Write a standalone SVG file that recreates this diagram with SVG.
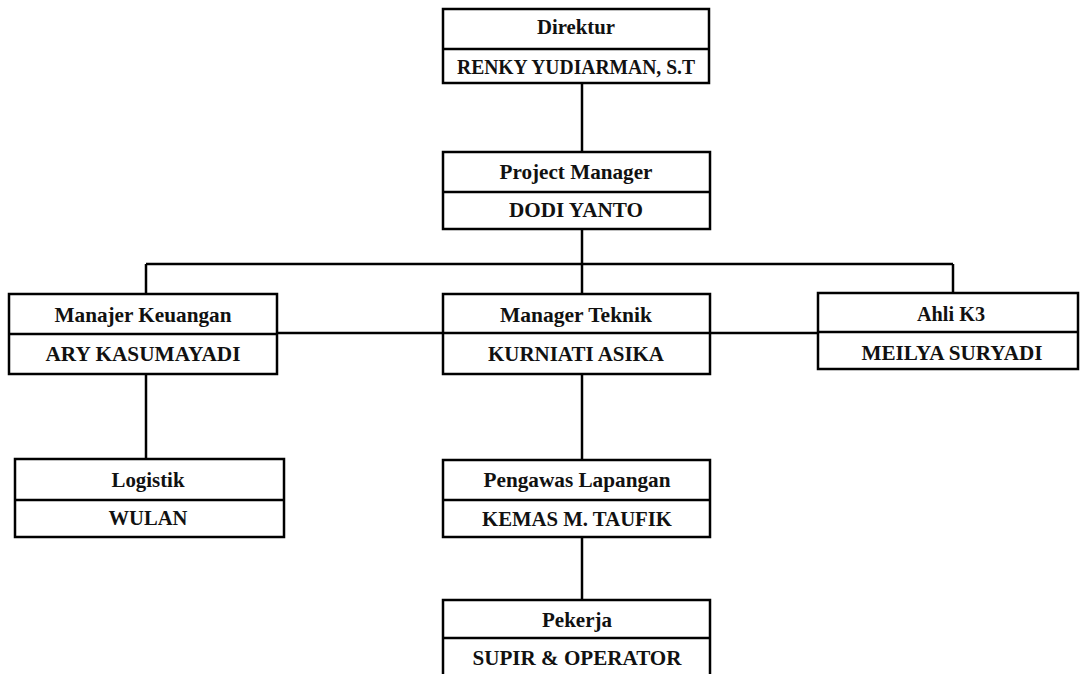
<svg xmlns="http://www.w3.org/2000/svg" width="1082" height="674" viewBox="0 0 1082 674">
<style>
.box{fill:#fff;stroke:#000;stroke-width:2.5}
.div{stroke:#000;stroke-width:2.5}
.conn line{stroke:#000;stroke-width:2.5}
text{font-family:"Liberation Serif","Times New Roman",serif;font-weight:bold;font-size:21px;fill:#111;text-anchor:middle}
</style>
<rect width="1082" height="674" fill="#fff"/>
<g id="connectors" class="conn">
<line x1="582" y1="83" x2="582" y2="152"/>
<line x1="582" y1="229" x2="582" y2="264"/>
<line x1="146" y1="264" x2="953" y2="264"/>
<line x1="146" y1="264" x2="146" y2="294"/>
<line x1="582" y1="264" x2="582" y2="294"/>
<line x1="953" y1="264" x2="953" y2="293"/>
<line x1="277" y1="333" x2="818" y2="333"/>
<line x1="146" y1="374" x2="146" y2="459"/>
<line x1="582" y1="374" x2="582" y2="460"/>
<line x1="582" y1="537" x2="582" y2="600"/>
</g>
<g id="direktur">
<rect class="box" x="443" y="9" width="266" height="74"/>
<line class="div" x1="443" y1="49" x2="709" y2="49"/>
<text x="576" y="34" textLength="78" lengthAdjust="spacingAndGlyphs">Direktur</text>
<text x="576" y="74" textLength="238" lengthAdjust="spacingAndGlyphs">RENKY YUDIARMAN, S.T</text>
</g>
<g id="project-manager">
<rect class="box" x="443" y="152" width="267" height="77"/>
<line class="div" x1="443" y1="192" x2="710" y2="192"/>
<text x="576" y="179" textLength="153" lengthAdjust="spacingAndGlyphs">Project Manager</text>
<text x="576" y="217" textLength="134" lengthAdjust="spacingAndGlyphs">DODI YANTO</text>
</g>
<g id="manajer-keuangan">
<rect class="box" x="9" y="294" width="268" height="80"/>
<line class="div" x1="9" y1="334" x2="277" y2="334"/>
<text x="143" y="322" textLength="177" lengthAdjust="spacingAndGlyphs">Manajer Keuangan</text>
<text x="143" y="361" textLength="195" lengthAdjust="spacingAndGlyphs">ARY KASUMAYADI</text>
</g>
<g id="manager-teknik">
<rect class="box" x="443" y="294" width="267" height="80"/>
<line class="div" x1="443" y1="333" x2="710" y2="333"/>
<text x="576" y="322" textLength="152" lengthAdjust="spacingAndGlyphs">Manager Teknik</text>
<text x="576" y="361" textLength="176" lengthAdjust="spacingAndGlyphs">KURNIATI ASIKA</text>
</g>
<g id="ahli-k3">
<rect class="box" x="818" y="293" width="260" height="76"/>
<line class="div" x1="818" y1="332" x2="1078" y2="332"/>
<text x="951" y="321" textLength="68" lengthAdjust="spacingAndGlyphs">Ahli K3</text>
<text x="952" y="360" textLength="181" lengthAdjust="spacingAndGlyphs">MEILYA SURYADI</text>
</g>
<g id="logistik">
<rect class="box" x="15" y="459" width="269" height="78"/>
<line class="div" x1="15" y1="500" x2="284" y2="500"/>
<text x="148" y="487" textLength="73" lengthAdjust="spacingAndGlyphs">Logistik</text>
<text x="148" y="525" textLength="79" lengthAdjust="spacingAndGlyphs">WULAN</text>
</g>
<g id="pengawas-lapangan">
<rect class="box" x="443" y="460" width="267" height="77"/>
<line class="div" x1="443" y1="500" x2="710" y2="500"/>
<text x="577" y="487" textLength="187" lengthAdjust="spacingAndGlyphs">Pengawas Lapangan</text>
<text x="577" y="526" textLength="190" lengthAdjust="spacingAndGlyphs">KEMAS M. TAUFIK</text>
</g>
<g id="pekerja">
<rect class="box" x="443" y="600" width="267" height="90"/>
<line class="div" x1="443" y1="638" x2="710" y2="638"/>
<text x="577" y="627" textLength="70" lengthAdjust="spacingAndGlyphs">Pekerja</text>
<text x="577" y="665" textLength="209" lengthAdjust="spacingAndGlyphs">SUPIR &amp; OPERATOR</text>
</g>
</svg>
